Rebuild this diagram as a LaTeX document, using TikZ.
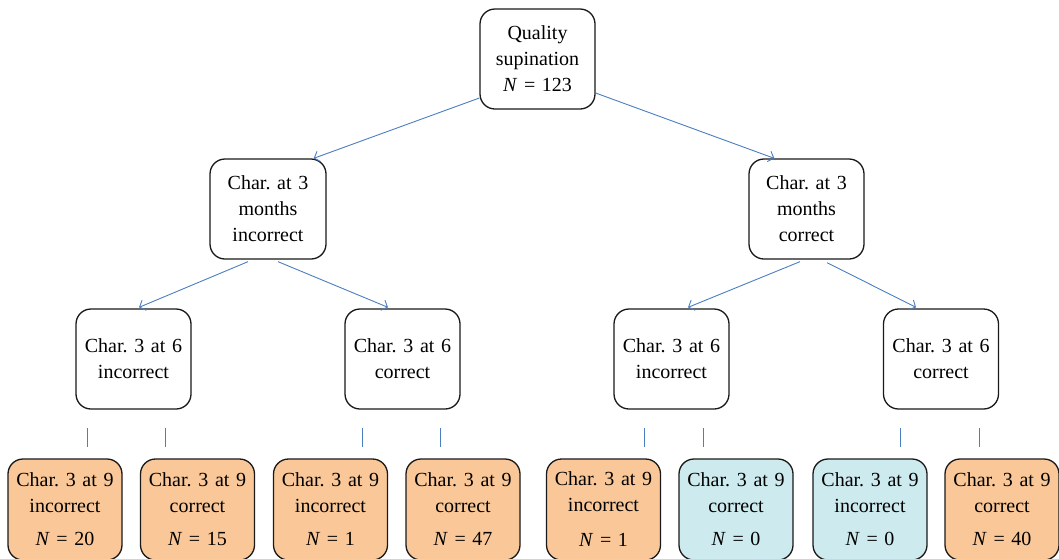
\documentclass[tikz,border=0pt]{standalone}
\usepackage{fontspec}
\setmainfont{Liberation Serif}
\usetikzlibrary{arrows.meta,calc}
\definecolor{linkblue}{HTML}{4A7EBF}
\definecolor{boxorange}{HTML}{FAC898}
\definecolor{boxcyan}{HTML}{CDEAEE}
\frenchspacing
\newcommand{\eqN}[1]{\textit{N}\kern6.5pt=\kern6.5pt#1}
\begin{document}
\begin{tikzpicture}[x=1pt,y=-1pt,
  font=\fontsize{20}{26}\selectfont,
  box/.style={draw=black!90, line width=1.3pt, rounded corners=15pt, align=center,
    minimum width=115pt, minimum height=100pt, inner sep=0pt, text width=110pt},
  leaf/.style={box, minimum width=114pt, minimum height=101pt},
  orangebox/.style={leaf, fill=boxorange},
  cyanbox/.style={leaf, fill=boxcyan},
  link/.style={draw=linkblue, line width=0.9pt, -{Straight Barb[length=5pt,width=11pt]}},
  tick/.style={draw=linkblue, line width=0.9pt}]
\useasboundingbox (0,0) rectangle (1059,558);

\node[box] (top) at (537.5,59) {Quality\\supination\\\eqN{123}};

\node[box, minimum width=116pt] (l2a) at (268,209) {Char. at 3\\months\\incorrect};
\node[box] (l2b) at (806.5,209) {Char. at 3\\months\\correct};

\node[box] (l3a) at (133.5,359) {Char. 3 at 6\\incorrect};
\node[box] (l3b) at (402.5,359) {Char. 3 at 6\\correct};
\node[box] (l3c) at (671.5,359) {Char. 3 at 6\\incorrect};
\node[box] (l3d) at (941,359) {Char. 3 at 6\\correct};

\node[orangebox] (l4a) at (65,509.5) {Char. 3 at 9\\incorrect\\[7pt]\eqN{20}};
\node[orangebox] (l4b) at (197.5,509.5) {Char. 3 at 9\\correct\\[7pt]\eqN{15}};
\node[orangebox] (l4c) at (330.5,509.5) {Char. 3 at 9\\incorrect\\[7pt]\textit{N} = 1};
\node[orangebox] (l4d) at (463,509.5) {Char. 3 at 9\\correct\\[7pt]\eqN{47}};
\node[orangebox] (l4e) at (603.5,509.5) {Char. 3 at 9\\incorrect\\[9pt]\textit{N} = 1};
\node[cyanbox] (l4f) at (736,509.5) {Char. 3 at 9\\correct\\[7pt]\textit{N} = 0};
\node[cyanbox] (l4g) at (870,509.5) {Char. 3 at 9\\incorrect\\[7pt]\textit{N} = 0};
\node[orangebox] (l4h) at (1002,509.5) {Char. 3 at 9\\correct\\[7pt]\eqN{40}};

\draw[link] ($(top.west)+(0,39)$) -- ($(l2a.north east)+(-13,0)$);
\draw[link] ($(top.east)+(0,34)$) -- ($(l2b.north west)+(26,0)$);
\draw[link] ($(l2a.south)+(-20,2)$) -- ($(l3a.north)+(5.5,-1)$);
\draw[link] ($(l2a.south)+(10,2)$) -- ($(l3b.north)+(-14.5,-1)$);
\draw[link] ($(l2b.south)+(-6.5,2)$) -- ($(l3c.north)+(16.5,-1)$);
\draw[link] ($(l2b.south)+(20.5,3)$) -- ($(l3d.north)+(-25,-1)$);

\foreach \n/\x in {ta/87,tb/165,tc/362,td/440,te/644,tf/703,tg/900,th/979}{
  \coordinate (\n1) at (\x,428);
  \coordinate (\n2) at (\x,447);
  \draw[tick] (\n1) -- (\n2);
}
\end{tikzpicture}
\end{document}
